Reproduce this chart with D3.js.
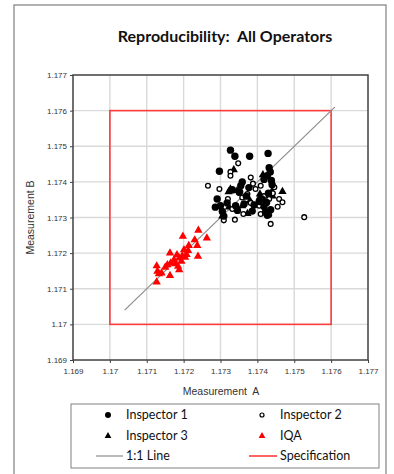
<!DOCTYPE html>
<html>
<head>
<meta charset="utf-8">
<script src="https://cdn.jsdelivr.net/npm/d3@7"></script>
<style>
  html, body { margin: 0; padding: 0; background: #fff; }
  svg { display: block; }
</style>
</head>
<body>
<svg id="chart" width="394" height="474"></svg>
<script>
// Reproducibility study: Measurement A vs Measurement B for each operator
const axisTicks = [1.169, 1.170, 1.171, 1.172, 1.173, 1.174, 1.175, 1.176, 1.177];
const tickLabels = ["1.169", "1.17", "1.171", "1.172", "1.173", "1.174", "1.175", "1.176", "1.177"];

const inspector1A = [1.17327, 1.17339, 1.17379, 1.17429, 1.17297, 1.17432, 1.17435, 1.17427, 1.17418, 1.17359,
  1.17355, 1.17377, 1.17291, 1.17300, 1.17286, 1.17305, 1.17309, 1.17341, 1.17364, 1.17391,
  1.17418, 1.17427, 1.17436, 1.17352, 1.17370, 1.17405, 1.17318, 1.17412, 1.17440, 1.17346,
  1.17386, 1.17425, 1.17332, 1.17438, 1.17430, 1.17422];
const inspector1B = [1.17489, 1.17472, 1.17472, 1.17480, 1.17430, 1.17440, 1.17428, 1.17417, 1.17407, 1.17400,
  1.17389, 1.17384, 1.17352, 1.17333, 1.17329, 1.17317, 1.17304, 1.17333, 1.17338, 1.17335,
  1.17331, 1.17306, 1.17322, 1.17372, 1.17360, 1.17345, 1.17341, 1.17352, 1.17392, 1.17320,
  1.17318, 1.17342, 1.17378, 1.17404, 1.17368, 1.17315];

const inspector2A = [1.17348, 1.17327, 1.17327, 1.17266, 1.17297, 1.17382, 1.17409, 1.17432, 1.17459, 1.17468,
  1.17527, 1.17436, 1.17432, 1.17339, 1.17309, 1.17359, 1.17382, 1.17373, 1.17405, 1.17350,
  1.17409, 1.17332, 1.17446, 1.17442, 1.17395, 1.17362, 1.17418, 1.17320, 1.17455, 1.17388];
const inspector2B = [1.17452, 1.17428, 1.17417, 1.17389, 1.17380, 1.17412, 1.17389, 1.17352, 1.17352, 1.17343,
  1.17301, 1.17282, 1.17307, 1.17294, 1.17292, 1.17356, 1.17341, 1.17366, 1.17333, 1.17369,
  1.17310, 1.17324, 1.17385, 1.17368, 1.17380, 1.17310, 1.17360, 1.17352, 1.17330, 1.17395];

const inspector3A = [1.17327, 1.17322, 1.17345, 1.17407, 1.17439, 1.17468, 1.17323, 1.17373, 1.17407, 1.17305,
  1.17359, 1.17441, 1.17336, 1.17380, 1.17415];
const inspector3B = [1.17380, 1.17372, 1.17375, 1.17366, 1.17372, 1.17373, 1.17329, 1.17311, 1.17357, 1.17304,
  1.17333, 1.17360, 1.17434, 1.17347, 1.17420];

const iqaA = [1.17240, 1.17198, 1.17263, 1.17230, 1.17214, 1.17237, 1.17201, 1.17212, 1.17239, 1.17163,
  1.17182, 1.17174, 1.17188, 1.17194, 1.17165, 1.17156, 1.17185, 1.17188, 1.17127, 1.17129,
  1.17140, 1.17133, 1.17163, 1.17127, 1.17196, 1.17204, 1.17178, 1.17208, 1.17150];
const iqaB = [1.17264, 1.17247, 1.17242, 1.17237, 1.17221, 1.17221, 1.17209, 1.17207, 1.17191, 1.17200,
  1.17195, 1.17181, 1.17186, 1.17177, 1.17172, 1.17167, 1.17163, 1.17153, 1.17164, 1.17149,
  1.17144, 1.17142, 1.17137, 1.17119, 1.17192, 1.17188, 1.17170, 1.17196, 1.17160];

const oneToOne = [1.1704, 1.1761];
const specLimits = [1.170, 1.176];

const legendLabels = ["Inspector 1", "Inspector 2", "Inspector 3", "IQA", "1:1 Line", "Specification"];

const svg = d3.select("#chart");
const font = "Lato, 'Open Sans', sans-serif";
const tickFont = "'Liberation Sans', Arial, sans-serif";

// outer chart frame
svg.append("rect").attr("x", 14).attr("y", 5).attr("width", 372).attr("height", 480)
  .attr("fill", "#fff").attr("stroke", "#7f7f7f").attr("stroke-width", 1.2);

svg.append("text").attr("x", 225).attr("y", 42).attr("text-anchor", "middle")
  .attr("font-family", font).attr("font-weight", "bold").attr("font-size", 16)
  .attr("fill", "#111").attr("xml:space", "preserve")
  .text("Reproducibility:  All Operators");

const x = d3.scaleLinear().domain([1.169, 1.177]).range([73, 368]);
const y = d3.scaleLinear().domain([1.169, 1.177]).range([360, 75]);

// gridlines
const grid = svg.append("g");
grid.selectAll(".gx").data(axisTicks.slice(1, -1)).join("line")
  .attr("x1", d => x(d)).attr("x2", d => x(d)).attr("y1", y(1.169)).attr("y2", y(1.177))
  .attr("stroke", "#d9d9d9").attr("stroke-width", 1.4);
grid.selectAll(".gy").data(axisTicks.slice(1, -1)).join("line")
  .attr("y1", d => y(d)).attr("y2", d => y(d)).attr("x1", x(1.169)).attr("x2", x(1.177))
  .attr("stroke", "#d9d9d9").attr("stroke-width", 1.4);

// axes
const fmt = d => tickLabels[axisTicks.indexOf(d)];
const xAxis = svg.append("g").attr("transform", `translate(0,${y(1.169)})`)
  .call(d3.axisBottom(x).tickValues(axisTicks).tickFormat(fmt).tickSize(3).tickPadding(5));
const yAxis = svg.append("g").attr("transform", `translate(${x(1.169)},0)`)
  .call(d3.axisLeft(y).tickValues(axisTicks).tickFormat(fmt).tickSize(3).tickPadding(3));
[xAxis, yAxis].forEach(g => {
  g.select(".domain").remove();
  g.selectAll(".tick line").attr("stroke", "#404040");
  g.selectAll("text").attr("font-family", tickFont).attr("font-size", 8).attr("fill", "#333");
});

// plot frame
svg.append("rect").attr("x", x(1.169)).attr("y", y(1.177))
  .attr("width", x(1.177) - x(1.169)).attr("height", y(1.169) - y(1.177))
  .attr("fill", "none").attr("stroke", "#404040").attr("stroke-width", 1.5);

// specification window
svg.append("rect").attr("x", x(specLimits[0])).attr("y", y(specLimits[1]))
  .attr("width", x(specLimits[1]) - x(specLimits[0])).attr("height", y(specLimits[0]) - y(specLimits[1]))
  .attr("fill", "none").attr("stroke", "#ff3b3b").attr("stroke-width", 1.6);

// 1:1 line
svg.append("line").attr("x1", x(oneToOne[0])).attr("y1", y(oneToOne[0]))
  .attr("x2", x(oneToOne[1])).attr("y2", y(oneToOne[1]))
  .attr("stroke", "#8c8c8c").attr("stroke-width", 1.2);

const tri = d3.symbol().type(d3.symbolTriangle).size(30);
const pts = (a, b) => a.map((v, i) => [v, b[i]]);

svg.append("g").selectAll("path").data(pts(iqaA, iqaB)).join("path")
  .attr("d", tri).attr("transform", d => `translate(${x(d[0])},${y(d[1])})`).attr("fill", "#ff0000");
svg.append("g").selectAll("path").data(pts(inspector3A, inspector3B)).join("path")
  .attr("d", tri).attr("transform", d => `translate(${x(d[0])},${y(d[1])})`).attr("fill", "#000");
svg.append("g").selectAll("circle").data(pts(inspector2A, inspector2B)).join("circle")
  .attr("cx", d => x(d[0])).attr("cy", d => y(d[1])).attr("r", 2.4)
  .attr("fill", "#fff").attr("stroke", "#000").attr("stroke-width", 1.3);
svg.append("g").selectAll("circle").data(pts(inspector1A, inspector1B)).join("circle")
  .attr("cx", d => x(d[0])).attr("cy", d => y(d[1])).attr("r", 3.7).attr("fill", "#000");

// axis titles
svg.append("text").attr("x", 221).attr("y", 395).attr("text-anchor", "middle")
  .attr("font-family", tickFont).attr("font-size", 10.5).attr("fill", "#333")
  .attr("xml:space", "preserve").text("Measurement  A");
svg.append("text").attr("transform", "translate(34,217.5) rotate(-90)").attr("text-anchor", "middle")
  .attr("font-family", tickFont).attr("font-size", 10.5).attr("fill", "#333")
  .text("Measurement B");

// legend
const lg = svg.append("g");
lg.append("rect").attr("x", 71).attr("y", 404).attr("width", 308).attr("height", 64)
  .attr("fill", "#fff").attr("stroke", "#808080").attr("stroke-width", 1);
const rows = [415, 436, 456];
const cols = [108, 262];
const textX = [126, 280];
lg.append("circle").attr("cx", cols[0]).attr("cy", rows[0]).attr("r", 3).attr("fill", "#000");
lg.append("circle").attr("cx", cols[1]).attr("cy", rows[0]).attr("r", 2).attr("fill", "#fff")
  .attr("stroke", "#000").attr("stroke-width", 1.2);
lg.append("path").attr("d", d3.symbol().type(d3.symbolTriangle).size(20))
  .attr("transform", `translate(${cols[0]},${rows[1]})`).attr("fill", "#000");
lg.append("path").attr("d", d3.symbol().type(d3.symbolTriangle).size(20))
  .attr("transform", `translate(${cols[1]},${rows[1]})`).attr("fill", "#ff0000");
lg.append("line").attr("x1", 96).attr("x2", 123).attr("y1", rows[2]).attr("y2", rows[2])
  .attr("stroke", "#8c8c8c").attr("stroke-width", 1.2);
lg.append("line").attr("x1", 249).attr("x2", 277).attr("y1", rows[2]).attr("y2", rows[2])
  .attr("stroke", "#ff3b3b").attr("stroke-width", 1.6);
const lpos = [[textX[0], rows[0]], [textX[1], rows[0]], [textX[0], rows[1]], [textX[1], rows[1]], [textX[0], rows[2]], [textX[1], rows[2]]];
lg.selectAll("text.l").data(legendLabels).join("text")
  .attr("x", (d, i) => lpos[i][0]).attr("y", (d, i) => lpos[i][1]).attr("dy", "0.35em")
  .attr("font-family", font).attr("font-size", 12.5).attr("fill", "#111")
  .text(d => d);
</script>
</body>
</html>
